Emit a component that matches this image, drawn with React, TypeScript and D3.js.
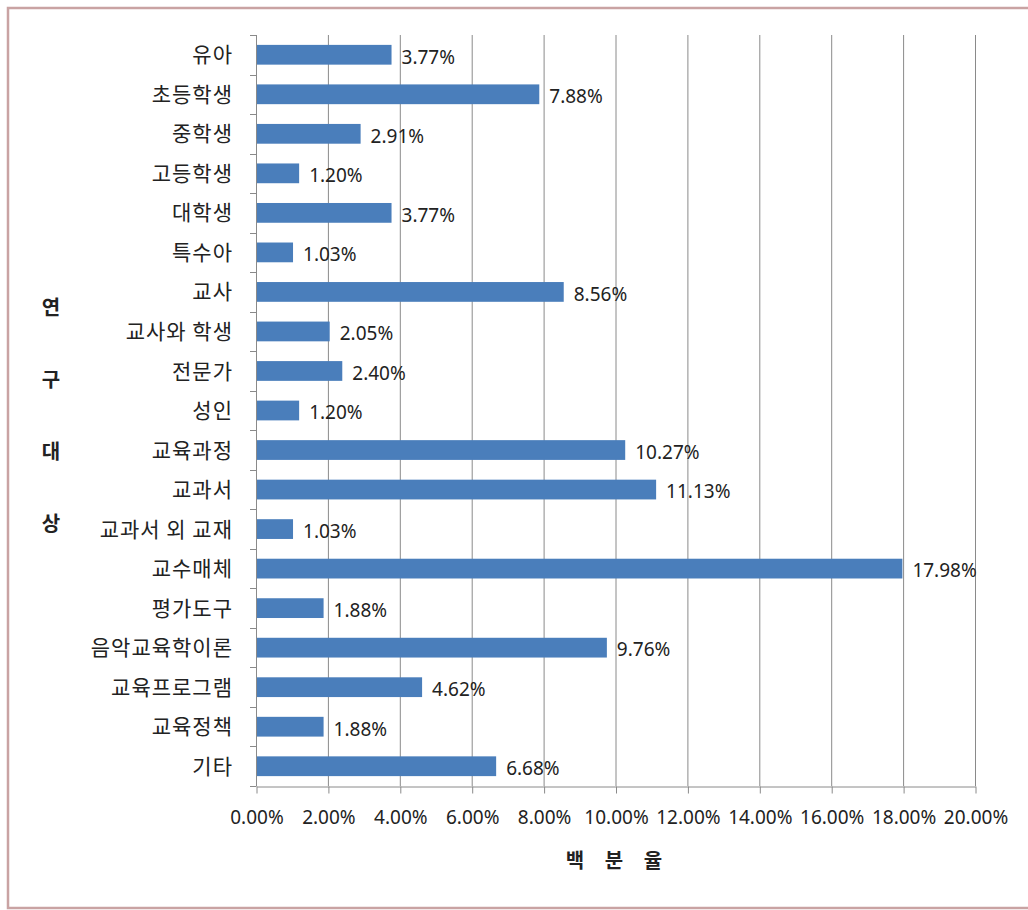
import * as d3 from "d3";
import { useEffect, useRef } from "react";

const categories: string[] = [
  "유아", "초등학생", "중학생", "고등학생", "대학생", "특수아", "교사", "교사와 학생",
  "전문가", "성인", "교육과정", "교과서", "교과서 외 교재", "교수매체", "평가도구",
  "음악교육학이론", "교육프로그램", "교육정책", "기타",
];
const values: number[] = [
  3.77, 7.88, 2.91, 1.2, 3.77, 1.03, 8.56, 2.05, 2.4, 1.2, 10.27, 11.13, 1.03, 17.98,
  1.88, 9.76, 4.62, 1.88, 6.68,
];
const xTicks: number[] = [0, 2, 4, 6, 8, 10, 12, 14, 16, 18, 20];
const yTitle: string[] = ["연", "구", "대", "상"];
const xTitle: string[] = ["백", "분", "율"];

const W = 1028;
const H = 910;
const FONT = "'Noto Sans CJK KR', 'Noto Sans', sans-serif";
const NUM_FONT = "'Noto Sans', 'Open Sans', sans-serif";

export default function App() {
  const svgRef = useRef<SVGSVGElement | null>(null);

  useEffect(() => {
    const svg = d3.select(svgRef.current);
    svg.selectAll("*").remove();

    const left = 256, right = 975, top = 35, bottom = 786;

    const x = d3.scaleLinear().domain([0, 20]).range([left, right]);
    const y = d3.scaleBand<string>().domain(categories).range([top, bottom]).paddingInner(0.5).paddingOuter(0.25);

    svg.append("rect").attr("width", W).attr("height", H).attr("fill", "#ffffff");

    // outer frame
    svg.append("path")
      .attr("d", `M${W + 5},8 L8,8 L8,908 L${W + 5},908`)
      .attr("fill", "none")
      .attr("stroke", "#c9a3a3")
      .attr("stroke-width", 2.5);

    // vertical gridlines
    svg.append("g")
      .selectAll("line")
      .data(xTicks.filter(t => t > 0))
      .join("line")
      .attr("x1", d => x(d) + 0.5)
      .attr("x2", d => x(d) + 0.5)
      .attr("y1", top)
      .attr("y2", bottom)
      .attr("stroke", "#8a8a8a")
      .attr("stroke-width", 1);

    // bars
    svg.append("g")
      .selectAll("rect")
      .data(values)
      .join("rect")
      .attr("x", x(0) + 1)
      .attr("y", (_, i) => y(categories[i])!)
      .attr("width", d => x(d) - x(0) - 1)
      .attr("height", y.bandwidth())
      .attr("fill", "#4a7ebb");

    // value labels
    svg.append("g")
      .selectAll("text")
      .data(values)
      .join("text")
      .attr("x", d => x(d) + 10)
      .attr("y", (_, i) => y(categories[i])! + y.bandwidth() / 2 + 2)
      .attr("dy", "0.36em")
      .attr("font-family", NUM_FONT)
      .attr("font-size", 19)
      .attr("fill", "#222")
      .text(d => d.toFixed(2) + "%");

    // x axis
    const xAxis = d3.axisBottom(x).tickValues(xTicks).tickSize(7).tickSizeOuter(0)
      .tickFormat(d => (d as number).toFixed(2) + "%");
    const gx = svg.append("g").attr("transform", `translate(0.5,${bottom + 0.5})`).call(xAxis);
    gx.select(".domain").attr("stroke", "#8a8a8a");
    gx.selectAll(".tick line").attr("stroke", "#8a8a8a");
    gx.selectAll(".tick text")
      .attr("font-family", NUM_FONT)
      .attr("font-size", 19)
      .attr("fill", "#222")
      .attr("dy", "1.45em");

    // y axis ticks at band edges
    const edges = categories.map((_, i) => top + (i * (bottom - top)) / categories.length).concat([bottom]);
    svg.append("line")
      .attr("x1", left + 0.5).attr("x2", left + 0.5)
      .attr("y1", top).attr("y2", bottom)
      .attr("stroke", "#8a8a8a");
    svg.append("g")
      .selectAll("line")
      .data(edges)
      .join("line")
      .attr("x1", left - 6)
      .attr("x2", left + 0.5)
      .attr("y1", d => Math.round(d) + 0.5)
      .attr("y2", d => Math.round(d) + 0.5)
      .attr("stroke", "#8a8a8a");

    // category labels
    svg.append("g")
      .selectAll("text")
      .data(categories)
      .join("text")
      .attr("x", 233)
      .attr("y", d => y(d)! + y.bandwidth() / 2)
      .attr("dy", "0.36em")
      .attr("text-anchor", "end")
      .attr("font-family", FONT)
      .attr("font-size", 21)
      .attr("letter-spacing", 1)
      .attr("fill", "#222")
      .text(d => d);

    // y title (stacked)
    svg.append("g")
      .selectAll("text")
      .data(yTitle)
      .join("text")
      .attr("x", 51)
      .attr("y", (_, i) => 308 + i * 72)
      .attr("dy", "0.36em")
      .attr("text-anchor", "middle")
      .attr("font-family", FONT)
      .attr("font-size", 20)
      .attr("font-weight", "bold")
      .attr("fill", "#222")
      .text(d => d);

    // x title
    svg.append("g")
      .selectAll("text")
      .data(xTitle)
      .join("text")
      .attr("x", (_, i) => 575 + i * 39)
      .attr("y", 861)
      .attr("dy", "0.36em")
      .attr("text-anchor", "middle")
      .attr("font-family", FONT)
      .attr("font-size", 20)
      .attr("font-weight", "bold")
      .attr("fill", "#222")
      .text(d => d);
  }, []);

  return (
    <div style={{ position: "absolute", left: 0, top: 0 }}>
      <svg ref={svgRef} width={W} height={H} style={{ display: "block" }}></svg>
    </div>
  );
}
